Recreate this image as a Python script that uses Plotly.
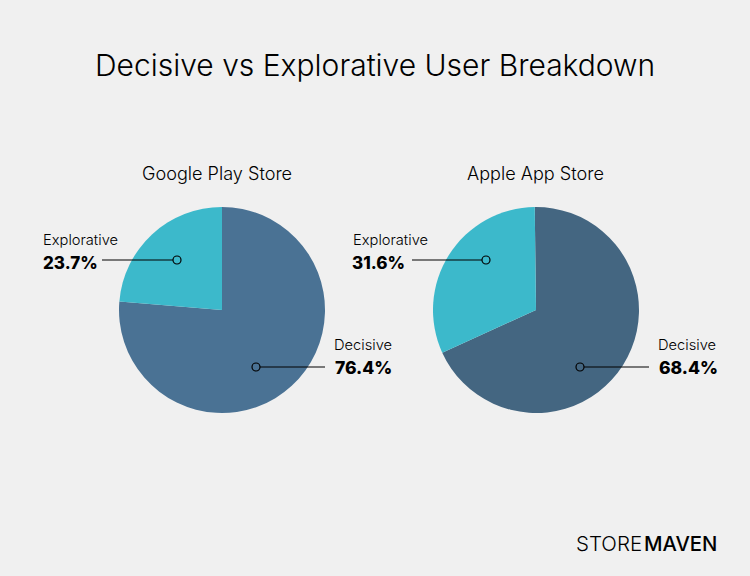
import plotly.graph_objects as go

W, H = 750, 576

labels = ['Decisive', 'Explorative']
stores = ['Google Play Store', 'Apple App Store']
google_values = [76.4, 23.7]
apple_values = [68.4, 31.6]
google_colors = ['#4A7294', '#3CB9CB']
apple_colors = ['#446681', '#3CB9CB']

FONT = 'Inter'
BLACK = '#000000'


def px(x):
    return x / W


def py(y):
    return 1 - y / H


def add_pie(fig, values, colors, left, rotation):
    fig.add_trace(go.Pie(labels=labels,
                         values=values,
                         marker={'colors': colors, 'line': {'width': 0}},
                         sort=False,
                         direction='clockwise',
                         rotation=rotation,
                         textinfo='none',
                         hoverinfo='label+percent',
                         showlegend=False,
                         domain={'x': [px(left), px(left + 206)],
                                 'y': [py(413), py(207)]}))


def add_text(fig, x, y, text, size, weight=300, anchor='left'):
    fig.add_annotation(x=px(x), y=py(y), xref='paper', yref='paper',
                       text=text, showarrow=False, xanchor=anchor, yanchor='middle',
                       borderpad=0, borderwidth=0,
                       font={'family': FONT, 'size': size, 'color': BLACK, 'weight': weight})


def add_callout(fig, x0, x1, y, dot_x):
    fig.add_shape(type='line', xref='paper', yref='paper',
                  x0=px(x0), x1=px(x1), y0=py(y), y1=py(y),
                  line={'color': BLACK, 'width': 1.2})
    fig.add_shape(type='circle', xref='paper', yref='paper',
                  x0=px(dot_x - 4), x1=px(dot_x + 4), y0=py(y + 4), y1=py(y - 4),
                  line={'color': BLACK, 'width': 1.2})


fig = go.Figure()
add_pie(fig, google_values, google_colors, 119, 0)
add_pie(fig, apple_values, apple_colors, 433, -0.7)

# titulos
add_text(fig, 375, 65, 'Decisive vs Explorative User Breakdown', 30, anchor='center')
add_text(fig, 217, 173, stores[0], 18.1, anchor='center')
add_text(fig, 535, 173, stores[1], 18.1, anchor='center')

# Google Play
add_text(fig, 43, 240, labels[1], 14.7)
add_text(fig, 43, 263, f'{google_values[1]}%', 17, 800)
add_text(fig, 334, 345, labels[0], 14.7)
add_text(fig, 335, 367, f'{google_values[0]}%', 17.5, 800)
add_callout(fig, 102, 173, 260, 177)
add_callout(fig, 260, 325, 367, 256)

# App Store
add_text(fig, 353, 240, labels[1], 14.7)
add_text(fig, 352, 263, f'{apple_values[1]}%', 17, 800)
add_text(fig, 658, 345, labels[0], 14.7)
add_text(fig, 659, 367, f'{apple_values[0]}%', 17.5, 800)
add_callout(fig, 412, 482, 260, 486)
add_callout(fig, 584, 649, 367, 580)

# logo
add_text(fig, 576, 543, 'STORE', 20.5)
add_text(fig, 644, 543, 'MAVEN', 20.3, 500)

fig.update_layout(width=W, height=H,
                  margin={'l': 0, 'r': 0, 't': 0, 'b': 0},
                  paper_bgcolor='#F0F0F0',
                  plot_bgcolor='#F0F0F0')

# tira a margem padrao do body
fig.write_html('out.html', config={'displayModeBar': False},
               post_script="document.body.style.margin='0';")
